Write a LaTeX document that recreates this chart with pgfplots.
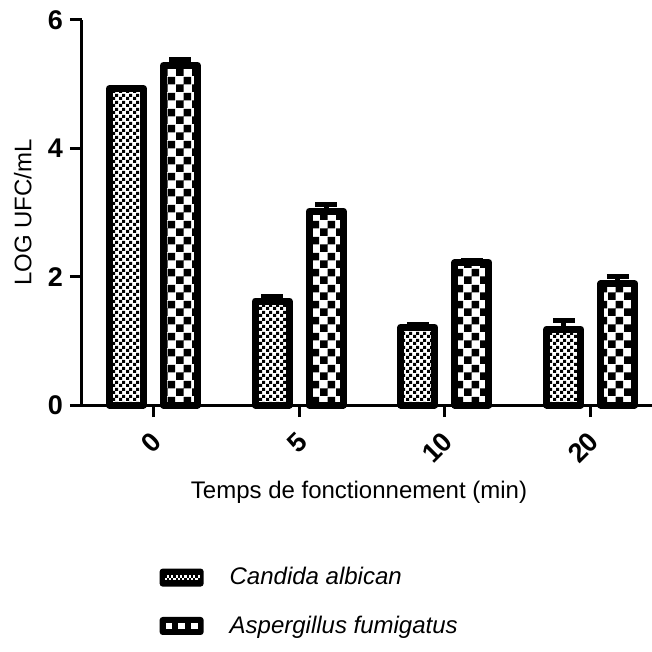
\documentclass[border=0pt]{standalone}
\usepackage{fontspec}
\setmainfont{Liberation Sans}
\usepackage{pgfplots}
\pgfplotsset{compat=1.18}
\usetikzlibrary{patterns}

\pgfdeclarepatternformonly{smallcheck}{\pgfpointorigin}{\pgfqpoint{3.3pt}{3.3pt}}{\pgfqpoint{3.3pt}{3.3pt}}{%
  \pgfpathrectangle{\pgfpointorigin}{\pgfqpoint{1.65pt}{1.65pt}}%
  \pgfpathrectangle{\pgfqpoint{1.65pt}{1.65pt}}{\pgfqpoint{1.65pt}{1.65pt}}%
  \pgfusepath{fill}}
\pgfdeclarepatternformonly{bigcheck}{\pgfpointorigin}{\pgfqpoint{8pt}{8pt}}{\pgfqpoint{8pt}{8pt}}{%
  \pgfpathrectangle{\pgfpointorigin}{\pgfqpoint{4pt}{4pt}}%
  \pgfpathrectangle{\pgfqpoint{4pt}{4pt}}{\pgfqpoint{4pt}{4pt}}%
  \pgfusepath{fill}}

\begin{document}
\begin{tikzpicture}
\begin{axis}[
  at={(0,0)}, anchor=south west,
  scale only axis, width=285pt, height=192.5pt,
  xmin=-0.49, xmax=3.42, ymin=0, ymax=6,
  ybar=10pt, bar width=17pt,
  axis lines=left,
  axis line style={line width=1.5pt, -},
  xtick={0,1,2,3}, xticklabels={0,5,10,20},
  ytick={0,2,4,6},
  tick style={line width=1.5pt, black},
  major tick length=6pt, tick align=outside,
  /pgf/number format/assume math mode=true,
  xticklabel style={xshift=4pt, yshift=-7.5pt, rotate=45, anchor=east, font=\bfseries\fontsize{13.5}{15}\selectfont},
  yticklabel style={font=\bfseries\fontsize{13.5}{15}\selectfont},
  xlabel={Temps de fonctionnement (min)},
  xlabel style={at={(axis description cs:0.486,-0.226)}, anchor=center, font=\fontsize{12}{14}\selectfont},
  ylabel={LOG UFC/mL},
  ylabel style={at={(axis description cs:-0.104,0.5)}, anchor=center, font=\fontsize{12}{14}\selectfont},
  legend style={at={(axis description cs:0.125,-0.40)}, anchor=north west, draw=none, fill=none,
    font=\itshape\fontsize{12}{14}\selectfont, row sep=10pt},
  legend cell align=left,
  clip=false,
]
\addplot[draw=black, line width=3.5pt, line join=round,
  pattern=smallcheck,
  legend image code/.code={%
    \fill[black, draw=none, rounded corners=1.5pt] (0pt,-4.5pt) rectangle (22pt,4.5pt);
    \foreach \i in {0,...,7}{
      \fill[white, draw=none] ({2.5pt+2*\i*1.1pt},-1.1pt) rectangle ++(1.1pt,1.1pt);
      \fill[white, draw=none] ({2.5pt+(2*\i+1)*1.1pt},0pt) rectangle ++(1.1pt,1.1pt);
    }
    \path[draw=none, fill=none] (0pt,0pt) -- (33pt,0pt);},
  error bars/.cd, y dir=plus, y explicit,
  error bar style={line width=2.5pt, black},
  error mark options={rotate=90, line width=2.5pt, mark size=5.5pt, black}]
  coordinates {(0,4.93) +- (0,0.02) (1,1.62) +- (0,0.07) (2,1.21) +- (0,0.04) (3,1.18) +- (0,0.14)};
\addlegendentry{Candida albican}
\addplot[draw=black, line width=3.5pt, line join=round,
  pattern=bigcheck,
  legend image code/.code={%
    \fill[black, draw=none, rounded corners=1.5pt] (0pt,-4.5pt) rectangle (22pt,4.5pt);
    \fill[white, draw=none] (3pt,-1.6pt) rectangle (6.2pt,1.6pt);
    \fill[white, draw=none] (9.4pt,-1.6pt) rectangle (12.6pt,1.6pt);
    \fill[white, draw=none] (15.8pt,-1.6pt) rectangle (19pt,1.6pt);
    \path[draw=none, fill=none] (0pt,0pt) -- (33pt,0pt);},
  error bars/.cd, y dir=plus, y explicit,
  error bar style={line width=2.5pt, black},
  error mark options={rotate=90, line width=2.5pt, mark size=5.5pt, black}]
  coordinates {(0,5.29) +- (0,0.09) (1,3.02) +- (0,0.10) (2,2.22) +- (0,0.03) (3,1.89) +- (0,0.12)};
\addlegendentry{Aspergillus fumigatus}
\end{axis}
\pgfresetboundingbox
\path[use as bounding box] (-41pt,-123.5pt) rectangle (285pt,202.5pt);
\end{tikzpicture}
\end{document}
